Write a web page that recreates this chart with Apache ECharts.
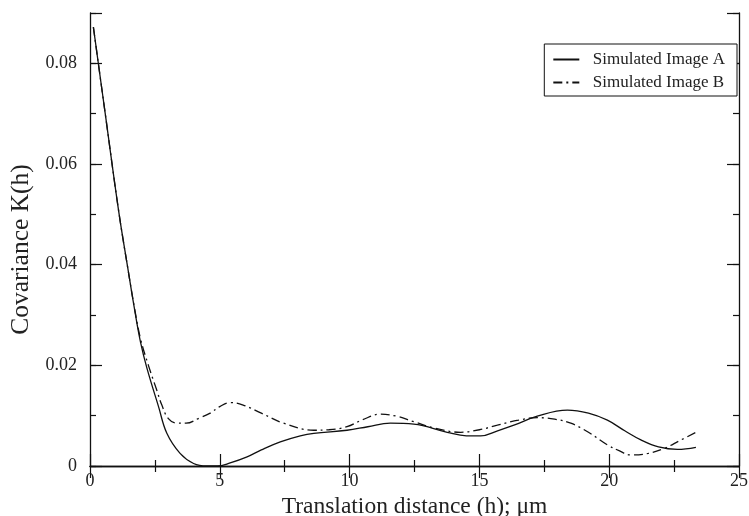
<!DOCTYPE html>
<html>
<head>
<meta charset="utf-8">
<script src="https://cdn.jsdelivr.net/npm/echarts@6/dist/echarts.min.js"></script>
<style>
  html, body { margin: 0; padding: 0; background: #fff; }
  #chart { width: 749px; height: 516px; }
</style>
</head>
<body>
<div id="chart"></div>
<script>
// Covariance K(h) against translation distance h (µm) for two simulated images
const seriesNames = ['Simulated Image A', 'Simulated Image B'];

const imageA_h = [0.13, 0.6, 1.1, 1.45, 1.72, 1.95, 2.19, 2.64, 2.96, 3.47, 3.99, 4.5, 4.9, 5.4, 6.05, 6.6, 7.33, 8.1, 8.62, 9.9, 10.7, 11.57, 12.47, 13.76, 14.5, 15.05, 15.7, 16.33, 17.23, 18.39, 19.2, 19.93, 20.6, 21.22, 21.9, 22.63, 23.34];
const imageA_K = [0.0872, 0.0695, 0.0508, 0.0395, 0.031, 0.0245, 0.0195, 0.0118, 0.0065, 0.0025, 0.0005, 0.0, 0.0, 0.0006, 0.0018, 0.0032, 0.0048, 0.006, 0.0065, 0.0071, 0.0078, 0.0085, 0.0083, 0.0067, 0.006, 0.006, 0.007, 0.0081, 0.0099, 0.0111, 0.0105, 0.0091, 0.007, 0.0052, 0.0038, 0.0033, 0.0037];

const imageB_h = [0.13, 0.6, 1.1, 1.45, 1.72, 1.95, 2.25, 2.57, 2.76, 3.02, 3.35, 3.7, 4.2, 4.63, 5.0, 5.4, 5.9, 6.6, 7.46, 8.62, 9.2, 9.9, 10.5, 11.19, 11.8, 12.47, 13.3, 14.28, 15.0, 15.69, 16.5, 17.23, 17.9, 18.52, 19.2, 19.93, 20.4, 20.83, 21.5, 22.12, 22.7, 23.34];
const imageB_K = [0.0872, 0.0695, 0.0508, 0.0395, 0.0312, 0.0252, 0.02, 0.0151, 0.0122, 0.0094, 0.0085, 0.0085, 0.0095, 0.0105, 0.0118, 0.0126, 0.0121, 0.0105, 0.0085, 0.0071, 0.0072, 0.0078, 0.0092, 0.0103, 0.0099, 0.0088, 0.0075, 0.0067, 0.0072, 0.0081, 0.0091, 0.0096, 0.0093, 0.0085, 0.0067, 0.0042, 0.003, 0.0022, 0.0025, 0.0035, 0.005, 0.0067];

const xTicks = [0, 5, 10, 15, 20, 25];
const yTickLabels = ['0', '0.02', '0.04', '0.06', '0.08'];

const pairs = (xs, ys) => xs.map((x, i) => [x, ys[i]]);

const FONT = '"Liberation Serif", "DejaVu Serif", serif';
const INK = '#111';

const chart = echarts.init(document.getElementById('chart'), null, { renderer: 'canvas' });

const frameLine = { show: true, lineStyle: { color: INK, width: 1.3 } };

function xAx(pos, labels) {
  return {
    type: 'value', position: pos, min: 0, max: 25, interval: 5,
    axisLine: frameLine,
    axisTick: { show: true, inside: true, length: 12, lineStyle: { color: INK, width: 1.2 } },
    minorTick: { show: true, splitNumber: 2, length: 6, lineStyle: { color: INK, width: 1.2 } },
    splitLine: { show: false }, minorSplitLine: { show: false },
    axisLabel: labels ? {
      show: true, margin: 6, color: '#222', fontFamily: FONT, fontSize: 18,
      formatter: v => (xTicks.indexOf(v) >= 0 ? String(v) : '')
    } : { show: false },
    name: labels ? 'Translation distance (h); \u03bcm' : '',
    nameLocation: 'middle', nameGap: 27,
    nameTextStyle: { color: '#222', fontFamily: FONT, fontSize: 23.5 }
  };
}

// minor ticks every 0.01, major ticks (longer) every 0.02
function yMinor(pos, labels) {
  return {
    type: 'value', position: pos, min: 0, max: 0.09, interval: 0.01,
    axisLine: frameLine,
    axisTick: { show: true, inside: true, length: 6, lineStyle: { color: INK, width: 1.2 } },
    splitLine: { show: false },
    axisLabel: labels ? {
      show: true, margin: 13, color: '#222', fontFamily: FONT, fontSize: 18,
      formatter: v => {
        const s = v === 0 ? '0' : v.toFixed(2);
        return yTickLabels.indexOf(s) >= 0 ? s : '';
      }
    } : { show: false },
    name: labels ? 'Covariance K(h)' : '',
    nameLocation: 'middle', nameGap: 54,
    nameTextStyle: { color: '#222', fontFamily: FONT, fontSize: 25.5, padding: [0, 20, 0, 0] }
  };
}
function yMajor(pos) {
  return {
    type: 'value', position: pos, min: 0, max: 0.09, interval: 0.02,
    axisLine: { show: false },
    axisTick: { show: true, inside: true, length: 12, lineStyle: { color: INK, width: 1.2 } },
    splitLine: { show: false },
    axisLabel: { show: false }
  };
}

const lineCommon = {
  type: 'line', symbol: 'none', smooth: 0.4, xAxisIndex: 0, yAxisIndex: 0,
  animation: false
};

chart.setOption({
  animation: false,
  backgroundColor: '#fff',
  textStyle: { fontFamily: FONT },
  grid: { left: 90, right: 10, top: 13, bottom: 50, containLabel: false, outerBoundsMode: 'none' },
  legend: {
    orient: 'vertical', right: 12, top: 44,
    padding: [7, 12, 5, 8],
    itemWidth: 26, itemHeight: 14, itemGap: 6,
    borderColor: INK, borderWidth: 1,
    backgroundColor: '#fff',
    itemStyle: { color: 'rgba(0,0,0,0)', borderWidth: 0, opacity: 0 },
    textStyle: { color: '#222', fontFamily: FONT, fontSize: 17 },
    formatter: n => '  ' + n,
    data: seriesNames
  },
  xAxis: [xAx('bottom', true), xAx('top', false)],
  yAxis: [yMinor('left', true), yMajor('left'), yMinor('right', false), yMajor('right')],
  series: [
    Object.assign({}, lineCommon, {
      name: seriesNames[0],
      data: pairs(imageA_h, imageA_K),
      lineStyle: { color: INK, width: 1.3, type: 'solid' },
      itemStyle: { color: INK }
    }),
    Object.assign({}, lineCommon, {
      name: seriesNames[1],
      data: pairs(imageB_h, imageB_K),
      lineStyle: { color: INK, width: 1.3, type: [9, 4, 2, 4] },
      itemStyle: { color: INK }
    })
  ]
});
</script>
</body>
</html>
